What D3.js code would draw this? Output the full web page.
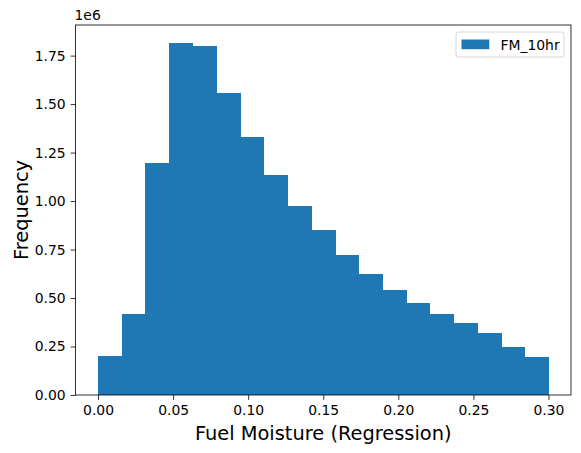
<!DOCTYPE html>
<html>
<head>
<meta charset="utf-8">
<script src="https://cdn.jsdelivr.net/npm/d3@7"></script>
<style>
  body { margin: 0; background: #fff; }
  svg { font-family: "DejaVu Sans", sans-serif; }
</style>
</head>
<body>
<svg id="chart" width="581" height="453"></svg>
<script>
// histogram counts (in units of 1e6), 19 equal bins from 0 to 0.3
const binStart = 0;
const binEnd = 0.3;
const counts = [0.203, 0.418, 1.196, 1.817, 1.797, 1.559, 1.332, 1.136, 0.976, 0.852,
                0.723, 0.625, 0.542, 0.475, 0.418, 0.372, 0.320, 0.248, 0.196];
const xTicks = [0, 0.05, 0.10, 0.15, 0.20, 0.25, 0.30];
const yTicks = [0, 0.25, 0.5, 0.75, 1.0, 1.25, 1.5, 1.75];
const seriesName = 'FM_10hr';

const mLeft = 75.5, mRight = 571, mTop = 25, mBottom = 395;
const svg = d3.select('#chart');

const binW = (binEnd - binStart) / counts.length;
const bins = counts.map((c, i) => ({ x0: binStart + i * binW, x1: binStart + (i + 1) * binW, v: c }));

const x = d3.scaleLinear().domain([-0.015, 0.315]).range([mLeft, mRight]);
const yMax = d3.max(counts) * 1.05;
const y = d3.scaleLinear().domain([0, yMax]).range([mBottom, mTop]);

svg.append('g').attr('shape-rendering', 'crispEdges').selectAll('rect')
  .data(bins)
  .join('rect')
  .attr('x', d => x(d.x0))
  .attr('width', d => x(d.x1) - x(d.x0) + 0.5)
  .attr('y', d => y(d.v))
  .attr('height', d => y(0) - y(d.v))
  .attr('fill', '#1f77b4');

// axes
const xAxis = d3.axisBottom(x).tickValues(xTicks).tickFormat(d3.format('.2f')).tickSizeOuter(0).tickSize(4.9).tickPadding(4.9);
const yAxis = d3.axisLeft(y).tickValues(yTicks).tickFormat(d3.format('.2f')).tickSizeOuter(0).tickSize(4.9).tickPadding(4.9);

const gx = svg.append('g').attr('transform', `translate(0,${mBottom})`).call(xAxis);
const gy = svg.append('g').attr('transform', `translate(${mLeft},0)`).call(yAxis);
[gx, gy].forEach(g => {
  g.select('.domain').remove();
  g.selectAll('.tick line').attr('stroke', '#000').attr('stroke-width', 0.8);
  g.selectAll('.tick text').attr('fill', '#000').style('font-size', '13.9px').style('font-family', '"DejaVu Sans", sans-serif');
});

// frame
svg.append('rect')
  .attr('x', mLeft).attr('y', mTop)
  .attr('width', mRight - mLeft).attr('height', mBottom - mTop)
  .attr('fill', 'none').attr('stroke', '#000').attr('stroke-width', 0.8);

// offset text
svg.append('text').attr('x', mLeft - 1).attr('y', 20).style('font-size', '13.9px').text('1e6');

// axis labels
svg.append('text')
  .attr('x', (mLeft + mRight) / 2).attr('y', 440)
  .attr('text-anchor', 'middle').style('font-size', '19.4px')
  .text('Fuel Moisture (Regression)');
svg.append('text')
  .attr('transform', `translate(28,${(mTop + mBottom) / 2}) rotate(-90)`)
  .attr('text-anchor', 'middle').style('font-size', '19.4px')
  .text('Frequency');

// legend
const lg = svg.append('g').attr('transform', 'translate(456,32)');
lg.append('rect').attr('width', 108).attr('height', 25).attr('rx', 2.5)
  .attr('fill', '#fff').attr('fill-opacity', 0.8).attr('stroke', '#ccc').attr('stroke-width', 0.8);
lg.append('rect').attr('x', 5.5).attr('y', 7.5).attr('width', 27.8).attr('height', 9.7).attr('fill', '#1f77b4');
lg.append('text').attr('x', 44.5).attr('y', 17.5).style('font-size', '13.9px').text(seriesName);
</script>
</body>
</html>
